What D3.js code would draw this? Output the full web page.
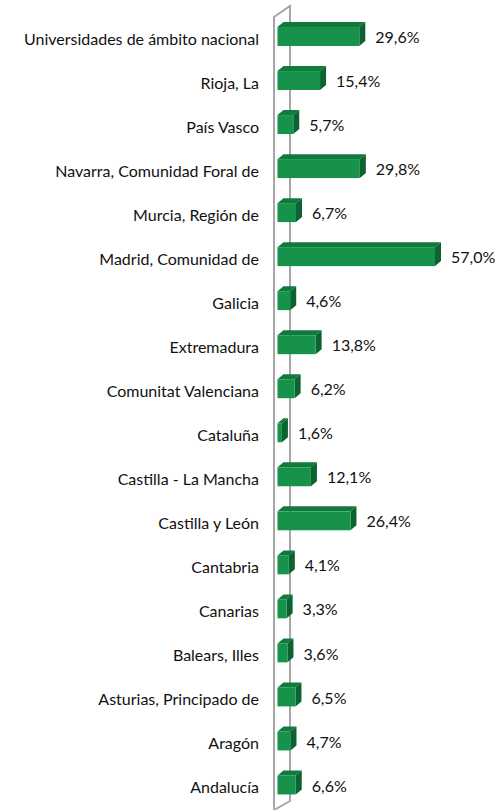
<!DOCTYPE html>
<html>
<head>
<meta charset="utf-8">
<script src="https://cdn.jsdelivr.net/npm/d3@7"></script>
<style>
  body { margin: 0; background: #fff; }
  text { font-family: Lato, "Open Sans", sans-serif; fill: #111; }
</style>
</head>
<body>
<svg id="chart" width="504" height="810"></svg>
<script>
var categories = [
  "Universidades de ámbito nacional", "Rioja, La", "País Vasco",
  "Navarra, Comunidad Foral de", "Murcia, Región de", "Madrid, Comunidad de",
  "Galicia", "Extremadura", "Comunitat Valenciana", "Cataluña",
  "Castilla - La Mancha", "Castilla y León", "Cantabria", "Canarias",
  "Balears, Illes", "Asturias, Principado de", "Aragón", "Andalucía"
];
var values = [29.6, 15.4, 5.7, 29.8, 6.7, 57.0, 4.6, 13.8, 6.2, 1.6,
  12.1, 26.4, 4.1, 3.3, 3.6, 6.5, 4.7, 6.6];
var valueLabels = ["29,6%", "15,4%", "5,7%", "29,8%", "6,7%", "57,0%", "4,6%",
  "13,8%", "6,2%", "1,6%", "12,1%", "26,4%", "4,1%", "3,3%", "3,6%", "6,5%",
  "4,7%", "6,6%"];

var svg = d3.select("#chart"),
  DX = 6, DY = 5,
  x = d3.scaleLinear().domain([0, 60]).range([277.5, 443.3]),
  y = d3.scaleBand().domain(categories).range([14.5, 807]).paddingInner(0.57).paddingOuter(0.285);

// 3D wall behind the bars
var wallL = 274, wallR = 290;
svg.append("path")
  .attr("d", "M" + wallL + ",810 L" + wallL + ",17 L" + wallR + ",6 L" + wallR + ",801 L" + wallL + ",810")
  .attr("fill", "none")
  .attr("stroke", "#a6a6a6")
  .attr("stroke-width", 2);

var data = categories.map(function(c, i) {
  return { cat: c, v: values[i], lab: valueLabels[i] };
});

var g = svg.selectAll(".bar").data(data).enter().append("g").attr("class", "bar");

// top face
g.append("path")
  .attr("d", function(d) {
    var x0 = x(0), x1 = x(d.v), t = y(d.cat);
    return "M" + x0 + "," + t + " L" + (x0 + DX) + "," + (t - DY) + " L" + (x1 + DX) + "," + (t - DY) + " L" + x1 + "," + t + "Z";
  })
  .attr("fill", "#0f7a3b");

// side face
g.append("path")
  .attr("d", function(d) {
    var x1 = x(d.v), t = y(d.cat), b = t + y.bandwidth();
    return "M" + x1 + "," + t + " L" + (x1 + DX) + "," + (t - DY) + " L" + (x1 + DX) + "," + (b - DY) + " L" + x1 + "," + b + "Z";
  })
  .attr("fill", "#0a6330");

// front face
g.append("rect")
  .attr("x", x(0))
  .attr("y", function(d) { return y(d.cat); })
  .attr("width", function(d) { return x(d.v) - x(0); })
  .attr("height", y.bandwidth())
  .attr("fill", "#16924a");

// value labels
g.append("text")
  .attr("x", function(d) { return x(d.v) + DX + 10; })
  .attr("y", function(d) { return y(d.cat) + y.bandwidth() / 2 + 1; })
  .attr("dy", "0.35em")
  .attr("font-size", 16)
  .text(function(d) { return d.lab; });

// category axis labels
var yAxis = d3.axisLeft(y).tickSize(0).tickPadding(0);
var ax = svg.append("g")
  .attr("transform", "translate(259,3)")
  .call(yAxis);
ax.select(".domain").remove();
ax.selectAll("text").attr("font-size", 16).attr("font-family", null).attr("fill", null);
</script>
</body>
</html>
